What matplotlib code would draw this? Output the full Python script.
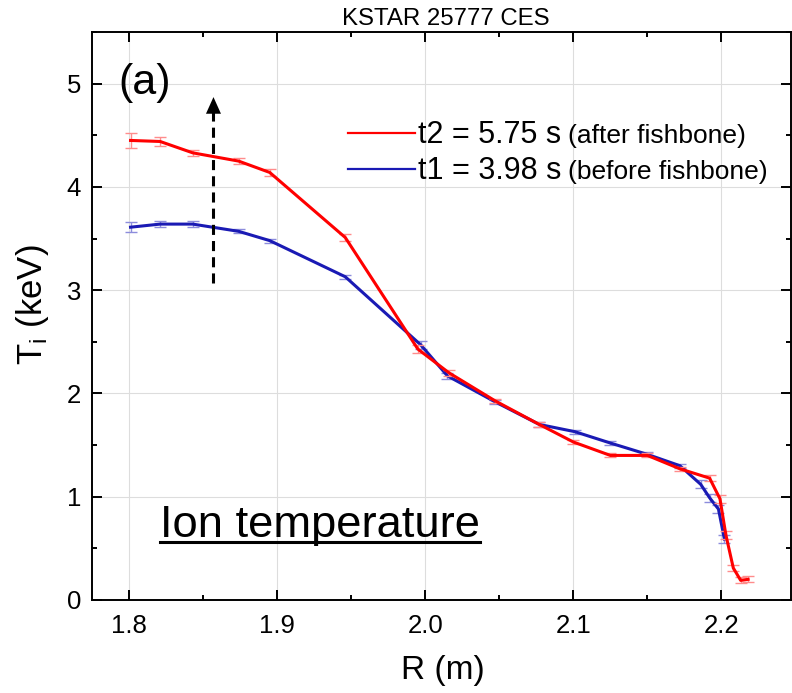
import matplotlib
matplotlib.use('Agg')
import matplotlib.pyplot as plt
from matplotlib.ticker import MultipleLocator

plt.rcParams['font.family'] = 'Liberation Sans'
plt.rcParams['mathtext.default'] = 'regular'

# t2 = 5.75 s (after fishbone)
r_t2 = [1.801, 1.821, 1.843, 1.874, 1.895, 1.946, 1.995, 2.016, 2.047, 2.077,
        2.100, 2.125, 2.150, 2.172, 2.192, 2.199, 2.203, 2.208, 2.213, 2.218]
ti_t2 = [4.45, 4.44, 4.33, 4.25, 4.14, 3.51, 2.43, 2.20, 1.93, 1.70,
         1.53, 1.40, 1.40, 1.27, 1.18, 0.98, 0.63, 0.31, 0.19, 0.20]
err_t2 = [0.07, 0.04, 0.03, 0.03, 0.03, 0.03, 0.04, 0.03, 0.02, 0.02,
          0.02, 0.02, 0.02, 0.02, 0.03, 0.04, 0.04, 0.03, 0.03, 0.03]

# t1 = 3.98 s (before fishbone)
r_t1 = [1.801, 1.821, 1.843, 1.874, 1.895, 1.946, 1.997, 2.015, 2.047, 2.077,
        2.101, 2.125, 2.150, 2.172, 2.186, 2.192, 2.198, 2.202]
ti_t1 = [3.61, 3.64, 3.64, 3.57, 3.48, 3.13, 2.47, 2.17, 1.92, 1.70,
         1.63, 1.52, 1.41, 1.30, 1.12, 0.99, 0.88, 0.59]
err_t1 = [0.05, 0.03, 0.03, 0.02, 0.02, 0.02, 0.04, 0.03, 0.02, 0.02,
          0.02, 0.02, 0.02, 0.02, 0.04, 0.04, 0.04, 0.04]

red = '#ff0000'
blue = '#1a1ab4'

fig = plt.figure(figsize=(7.92, 6.93), dpi=100)
ax = fig.add_axes([0.1162, 0.1342, 0.8826, 0.8196])

ax.errorbar(r_t1, ti_t1, yerr=err_t1, color=blue, ecolor='#8c8cdc', lw=2.2,
            elinewidth=1, capsize=4, capthick=1, zorder=3)
ax.errorbar(r_t2, ti_t2, yerr=err_t2, color=red, ecolor='#ff8c8c', lw=2.2,
            elinewidth=1, capsize=4, capthick=1, zorder=4)

# dashed arrow
ax.plot([1.857, 1.857], [3.07, 4.74], color='k', lw=2.2, ls=(0, (3.3, 2)), zorder=5)
ax.annotate('', xy=(1.857, 4.87), xytext=(1.857, 4.72),
            arrowprops=dict(arrowstyle='-|>,head_length=0.6,head_width=0.27',
                            color='k', lw=0, mutation_scale=20,
                            shrinkA=0, shrinkB=0), zorder=5)

ax.set_xlim(1.775, 2.247)
ax.set_ylim(0, 5.5)
ax.xaxis.set_major_locator(MultipleLocator(0.1))
ax.xaxis.set_minor_locator(MultipleLocator(0.05))
ax.yaxis.set_major_locator(MultipleLocator(1))
ax.yaxis.set_minor_locator(MultipleLocator(0.5))
ax.tick_params(which='both', direction='in', top=True, right=True, width=1.4,
               labelsize=18.5)
ax.tick_params(which='major', length=7)
ax.tick_params(which='minor', length=3.5)
ax.tick_params(axis='x', pad=10)
ax.tick_params(axis='y', pad=8)
for sp in ax.spines.values():
    sp.set_linewidth(1.4)
ax.set_axisbelow(True)
ax.grid(True, which='major', color='#dddddd', lw=0.8)

ax.set_xlabel('R (m)', fontsize=24)
ax.set_ylabel('T$_\\mathregular{i}$ (keV)', fontsize=25)
ax.xaxis.set_label_coords(0.502, -0.097)
ax.yaxis.set_label_coords(-0.058, 0.519)

fig.text(0.563, 1 - 19 / 693, 'KSTAR 25777 CES', ha='center', va='center', fontsize=17.3)

ax.text(0.037, 0.91, '(a)', transform=ax.transAxes, fontsize=31, va='center')

# legend drawn by hand (mixed font sizes)
rows = [(0.822, 0.805, red, 't2 = 5.75 s', '(after fishbone)'),
        (0.759, 0.741, blue, 't1 = 3.98 s', '(before fishbone)')]
for yl, yb, col, main, extra in rows:
    ax.plot([0.366, 0.462], [yl, yl], color=col, lw=1.6, transform=ax.transAxes)
    t = ax.text(0.466, yb, main, transform=ax.transAxes, fontsize=22, va='baseline')
    ax.annotate(extra, xy=(1, yb), xycoords=(t, 'axes fraction'), xytext=(5, 0),
                textcoords='offset points', fontsize=19, va='baseline')

ion_y = 0.111
ion = ax.text(0.097, ion_y, 'Ion temperature', transform=ax.transAxes,
              fontsize=32.7, va='baseline')
fig.canvas.draw()
bb = ion.get_window_extent()
inv = ax.transAxes.inverted()
x0 = inv.transform((bb.x0, 0))[0]
x1 = inv.transform((bb.x1, 0))[0]
ax.plot([x0, x1], [ion_y - 5 / 568, ion_y - 5 / 568], color='k', lw=2.2,
        transform=ax.transAxes)

fig.savefig('out.png', dpi=100)
